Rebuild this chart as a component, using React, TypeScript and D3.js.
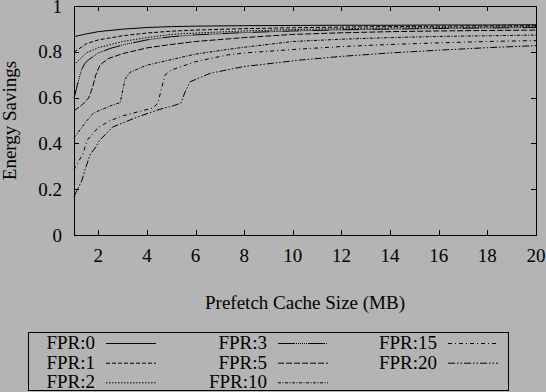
import * as d3 from "d3";

// series labels, in legend order
const seriesLabels = ["FPR:0", "FPR:1", "FPR:2", "FPR:3", "FPR:5", "FPR:10", "FPR:15", "FPR:20"];

// [cache size MB, energy savings]
const fpr0: [number, number][] = [
  [1, 0.866], [1.5, 0.878], [2, 0.888], [3, 0.899], [4, 0.906], [5, 0.91], [6, 0.912],
  [8, 0.914], [10, 0.915], [12, 0.916], [14, 0.916], [16, 0.917], [18, 0.917], [20, 0.918],
];
const fpr1: [number, number][] = [
  [1, 0.798], [1.5, 0.835], [2, 0.852], [3, 0.87], [4, 0.882], [5, 0.89], [6, 0.895],
  [8, 0.901], [10, 0.905], [12, 0.908], [14, 0.91], [16, 0.912], [18, 0.913], [20, 0.914],
];
const fpr2: [number, number][] = [
  [1, 0.742], [1.5, 0.795], [2, 0.818], [3, 0.845], [4, 0.862], [5, 0.876], [6, 0.882],
  [8, 0.891], [10, 0.897], [12, 0.901], [14, 0.904], [16, 0.906], [18, 0.908], [20, 0.91],
];
const fpr3: [number, number][] = [
  [1, 0.597], [1.15, 0.66], [1.3, 0.72], [1.45, 0.75], [1.6, 0.765], [2, 0.795], [2.5, 0.815],
  [3, 0.83], [4, 0.852], [5, 0.866], [6, 0.874], [8, 0.884], [10, 0.891], [12, 0.896],
  [14, 0.899], [16, 0.902], [18, 0.904], [20, 0.906],
];
const fpr5: [number, number][] = [
  [1, 0.543], [1.3, 0.565], [1.6, 0.598], [1.75, 0.64], [1.9, 0.7], [2.07, 0.742], [2.4, 0.77],
  [3, 0.792], [4, 0.817], [5, 0.832], [6, 0.845], [8, 0.862], [10, 0.876], [12, 0.883],
  [14, 0.888], [16, 0.891], [18, 0.893], [20, 0.895],
];
const fpr10: [number, number][] = [
  [1, 0.425], [1.15, 0.445], [1.45, 0.489], [1.8, 0.533], [2.1, 0.546], [2.6, 0.568], [2.9, 0.578],
  [3.0, 0.63], [3.1, 0.68], [3.3, 0.71], [4, 0.742], [5, 0.766], [6, 0.79], [7.3, 0.81],
  [8, 0.82], [10, 0.845], [12, 0.855], [14, 0.862], [16, 0.867], [18, 0.87], [20, 0.873],
];
const fpr15: [number, number][] = [
  [1, 0.284], [1.1, 0.306], [1.35, 0.35], [1.55, 0.415], [2, 0.47], [2.5, 0.5], [3, 0.52],
  [3.7, 0.54], [4.25, 0.555], [4.45, 0.576], [4.6, 0.64], [4.75, 0.7], [5, 0.72], [6, 0.757],
  [7.3, 0.786], [8, 0.795], [10, 0.81], [12, 0.823], [14, 0.832], [16, 0.839], [18, 0.845], [20, 0.849],
];
const fpr20: [number, number][] = [
  [1, 0.167], [1.15, 0.2], [1.33, 0.24], [1.45, 0.284], [1.66, 0.35], [1.9, 0.385], [2.07, 0.415],
  [2.6, 0.472], [3.6, 0.515], [4.5, 0.548], [5.1, 0.565], [5.4, 0.576], [5.55, 0.62], [5.77, 0.669],
  [6.6, 0.706], [7.95, 0.735], [10.3, 0.764], [12, 0.78], [14, 0.795], [16, 0.807], [18, 0.818], [20, 0.827],
];

const seriesData = [fpr0, fpr1, fpr2, fpr3, fpr5, fpr10, fpr15, fpr20];

const xTicks = [2, 4, 6, 8, 10, 12, 14, 16, 18, 20];
const yTicks = [0, 0.2, 0.4, 0.6, 0.8, 1];

// gnuplot-ish dash patterns
const dashes = [
  "none",
  "4,2",
  "1.5,1.5",
  "17,1,1,1,1,1,1,1,1,1,1,1,1,1",
  "6,2",
  "3,1.5,1,1.5",
  "4,3,1,3",
  "7,2,1.5,2,1.5,2",
];

const W = 546;
const H = 392;
const margin = { left: 74, right: 10, top: 6, bottom: 157 };
const font = "Liberation Serif, Times New Roman, Times, serif";

export default function App() {
  const x = d3.scaleLinear().domain([1, 20]).range([margin.left, W - margin.right]);
  const y = d3.scaleLinear().domain([0, 1]).range([H - margin.bottom, margin.top]);
  const line = d3.line<[number, number]>().x(d => x(d[0])).y(d => y(d[1]));
  const [x0, x1] = x.range();
  const [yb, yt] = y.range();
  const tick = 5;

  // legend layout
  const colTextRight = [95, 267, 437];
  const rowBase = [349, 368.7, 388.3];

  return (
    <div style={{ position: "fixed", left: 0, top: 0 }}>
      <svg width={W} height={H} style={{ display: "block", background: "#b4b4b4", fontFamily: font }}>
        <rect x={0} y={0} width={W} height={H} fill="#b4b4b4" />
        {/* series */}
        <g fill="none" stroke="#000" strokeWidth={1}>
          {seriesData.map((s, i) => (
            <path key={i} d={line(s) || ""} strokeDasharray={dashes[i]} />
          ))}
        </g>
        {/* frame */}
        <rect x={x0 + 0.5} y={yt + 0.5} width={x1 - x0} height={yb - yt} fill="none" stroke="#000" strokeWidth={1.2} shapeRendering="crispEdges" />
        {/* ticks */}
        <g stroke="#000" shapeRendering="crispEdges">
          {xTicks.map(t => (
            <g key={t}>
              <line x1={Math.round(x(t)) + 0.5} x2={Math.round(x(t)) + 0.5} y1={yb} y2={yb - tick} />
              <line x1={Math.round(x(t)) + 0.5} x2={Math.round(x(t)) + 0.5} y1={yt} y2={yt + tick} />
            </g>
          ))}
          {yTicks.map(t => (
            <g key={t}>
              <line x1={x0} x2={x0 + tick} y1={Math.round(y(t)) + 0.5} y2={Math.round(y(t)) + 0.5} />
              <line x1={x1} x2={x1 - tick} y1={Math.round(y(t)) + 0.5} y2={Math.round(y(t)) + 0.5} />
            </g>
          ))}
        </g>
        {/* tick labels */}
        <g fontSize={19} fill="#000" style={{ fontFamily: font }}>
          {xTicks.map(t => (
            <text key={t} x={x(t)} y={262} textAnchor="middle">{t}</text>
          ))}
          {yTicks.map(t => (
            <text key={t} x={62} y={y(t) + 6.5} textAnchor="end">{d3.format("~g")(t)}</text>
          ))}
        </g>
        {/* axis titles */}
        <text x={(x0 + x1) / 2} y={309} fontSize={19} textAnchor="middle" style={{ fontFamily: font }}>Prefetch Cache Size (MB)</text>
        <text transform={`translate(16, ${(yt + yb) / 2}) rotate(-90)`} fontSize={19} textAnchor="middle" style={{ fontFamily: font }}>Energy Savings</text>
        {/* legend */}
        <rect x={28.5} y={332.5} width={480} height={58} fill="none" stroke="#000" strokeWidth={1} shapeRendering="crispEdges" />
        {seriesLabels.map((lab, i) => {
          const col = Math.floor(i / 3);
          const row = i % 3;
          const tx = colTextRight[col];
          const ty = rowBase[row];
          return (
            <g key={lab}>
              <text x={tx} y={ty} fontSize={19} textAnchor="end" style={{ fontFamily: font }}>{lab}</text>
              <line x1={tx + 11} x2={tx + 61} y1={ty - 5.5} y2={ty - 5.5} stroke="#000" strokeWidth={1} strokeDasharray={dashes[i]} />
            </g>
          );
        })}
      </svg>
    </div>
  );
}
